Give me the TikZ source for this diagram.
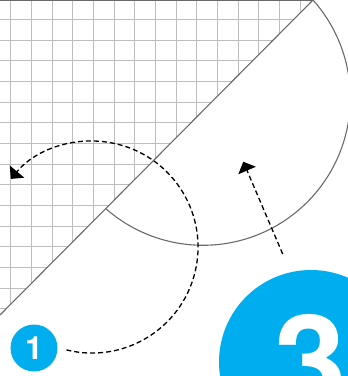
\documentclass[tikz,border=0pt]{standalone}
\usepackage{fontspec}
\setmainfont{TeX Gyre Heros}
\usetikzlibrary{arrows.meta}
\definecolor{brandcyan}{HTML}{00AEEF}
\definecolor{gridgray}{HTML}{BDBDBD}
\definecolor{edgegray}{HTML}{6A6A6A}
\begin{document}
\begin{tikzpicture}[x=1pt,y=-1pt,
  gridline/.style={draw=gridgray, line width=1pt},
  edgeline/.style={draw=edgegray, line width=1.1pt},
  topline/.style={draw=edgegray, line width=1.4pt},
  dasharrow/.style={draw=black, line width=1.3pt, dash pattern=on 5pt off 3pt,
    -{Triangle[length=9.6pt,width=18.8pt]}},
  badge/.style={circle, fill=brandcyan, inner sep=0pt, minimum size=#1, text=white}]
\useasboundingbox (0,0) rectangle (348,376);
\clip (0,0) rectangle (348,376);
% grid in the upper-left triangle
\begin{scope}
  \clip (0,0) -- (313,0) -- (0,315) -- cycle;
  \foreach \i in {0,...,15} \draw[gridline] ({10.67+20.67*\i},0) -- ++(0,320);
  \foreach \i in {0,...,15} \draw[gridline] (0,{19.33+20.67*\i}) -- ++(320,0);
\end{scope}
\coordinate (topleft) at (0,0.7);
\coordinate (topend) at (313,0);
\coordinate (leftend) at (0,315);
\draw[topline] (topleft) -- (topend |- topleft);
\draw[edgeline] (leftend) -- (topend);
% half disc outline
\draw[edgeline] (topend) arc[start angle=-41.7, end angle=131.2, radius=147.3];
% badges
\node[badge=47pt, font=\fontsize{32}{32}\selectfont\bfseries] (b1) at (34,348) {1};
\node[badge=184pt, font=\fontsize{130}{130}\selectfont\bfseries] (b3) at (311,362) {3};
% dashed arrows
\coordinate (a1s) at (66.4,349.9);
\draw[dasharrow] (a1s) arc[start angle=104, end angle=-140, radius=106];
\coordinate (a2s) at (282.7,254);
\coordinate (a2e) at (243.3,161.7);
\draw[dasharrow] (a2s) -- (a2e);
\end{tikzpicture}
\end{document}
